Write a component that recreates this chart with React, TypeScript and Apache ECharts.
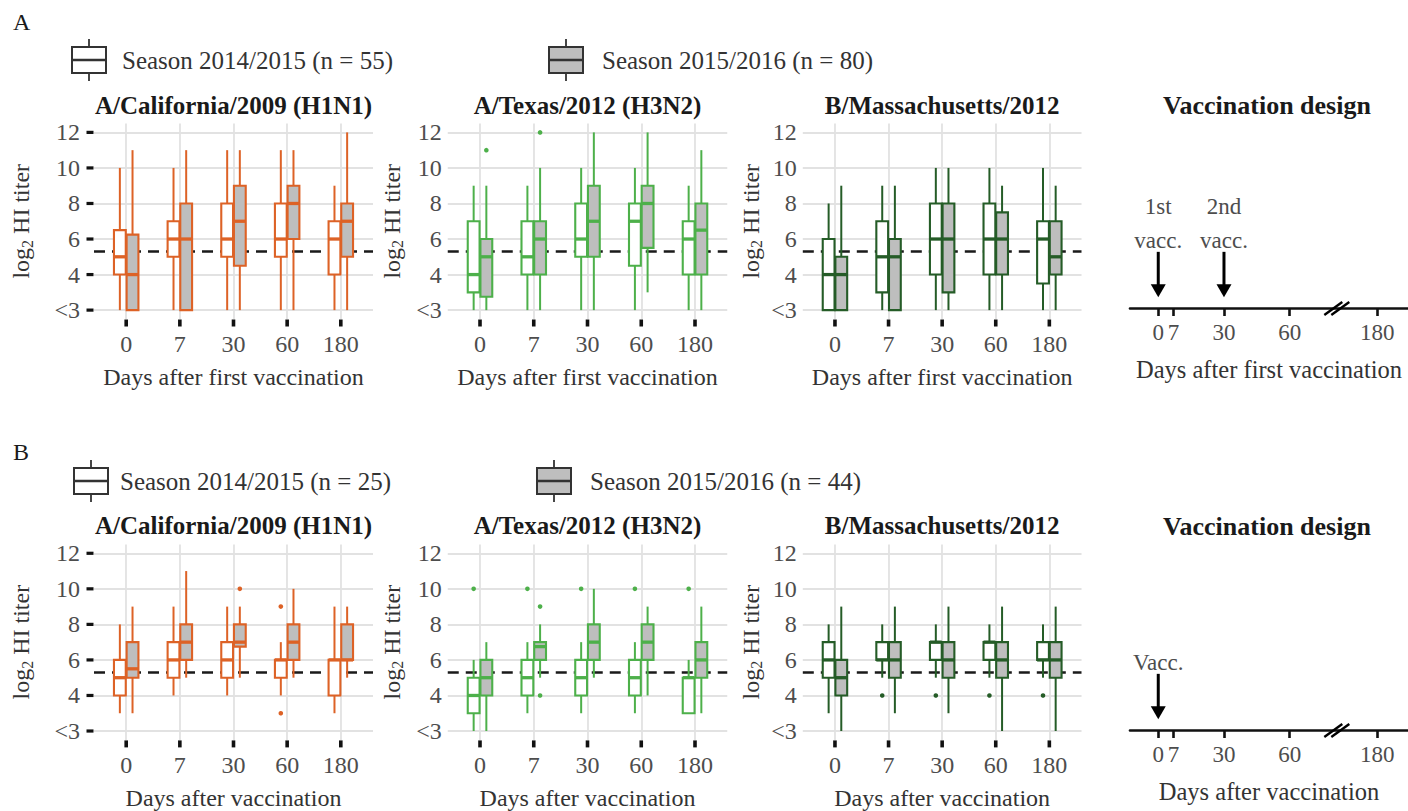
import React, { useEffect, useRef } from 'react';
import * as echarts from 'echarts';

// ---------- data ----------
const DAYS = ['0', '7', '30', '60', '180'];
const Y_TICKS = [2, 4, 6, 8, 10, 12]; // 2 == "<3"
const THRESH = 5.32; // log2(40)

// each row: [lowWhisker, q1, median, q3, highWhisker] for days 0,7,30,60,180
// Panel A (two doses)
const calA_s1 = [[2, 4, 5, 6.5, 10], [2, 5, 6, 7, 10], [2, 5, 6, 8, 11], [2, 5, 6, 8, 11], [2, 4, 6, 7, 9]];
const calA_s2 = [[2, 2, 4, 6.25, 11], [2, 2, 6, 8, 11], [2, 4.5, 7, 9, 11], [2, 6, 8, 9, 11], [2, 5, 7, 8, 12]];
const texA_s1 = [[2, 3, 4, 7, 9], [2, 4, 5, 7, 9], [2, 5, 6, 8, 10], [2, 4.5, 7, 8, 10], [2, 4, 6, 7, 9]];
const texA_s2 = [[2, 2.75, 5, 6, 9], [2, 4, 6, 7, 10], [2, 5, 7, 9, 12], [3, 5.5, 8, 9, 12], [2, 4, 6.5, 8, 11]];
const masA_s1 = [[2, 2, 4, 6, 8], [2, 3, 5, 7, 9], [2, 4, 6, 8, 10], [2, 4, 6, 8, 10], [2, 3.5, 6, 7, 10]];
const masA_s2 = [[2, 2, 4, 5, 9], [2, 2, 5, 6, 9], [2, 3, 6, 8, 10], [2, 4, 6, 7.5, 9], [2, 4, 5, 7, 9]];
// outliers: [dayIndex, value]
const calA_o1: number[][] = [];
const calA_o2: number[][] = [];
const texA_o1: number[][] = [];
const texA_o2 = [[0, 11], [1, 12]];
const masA_o1: number[][] = [];
const masA_o2: number[][] = [];

// Panel B (one dose)
const calB_s1 = [[3, 4, 5, 6, 8], [4, 5, 6, 7, 9], [4, 5, 6, 7, 9], [4, 5, 6, 6, 7], [3, 4, 6, 6, 9]];
const calB_s2 = [[3, 5, 5.5, 7, 9], [5, 6, 7, 8, 11], [5, 6.75, 7, 8, 9], [5, 6, 7, 8, 10], [5, 6, 6, 8, 9]];
const texB_s1 = [[2, 3, 4, 5, 6], [3, 4, 5, 6, 7], [3, 4, 5, 6, 7], [3, 4, 5, 6, 7], [3, 3, 5, 5, 6]];
const texB_s2 = [[2, 4, 5, 6, 7], [5, 6, 6.75, 7, 8], [5, 6, 7, 8, 10], [4, 6, 7, 8, 9], [3, 5, 6, 7, 9]];
const masB_s1 = [[3, 5, 6, 7, 8], [5, 6, 6, 7, 8], [5, 6, 7, 7, 8], [5, 6, 7, 7, 8], [5, 6, 6, 7, 8]];
const masB_s2 = [[2, 4, 5, 6, 9], [3, 5, 6, 7, 9], [3, 5, 6, 7, 9], [2, 5, 6, 7, 9], [2, 5, 6, 7, 9]];
const calB_o1 = [[3, 9], [3, 3]];
const calB_o2 = [[2, 10]];
const texB_o1 = [[0, 10], [1, 10], [2, 10], [3, 10], [4, 10]];
const texB_o2 = [[1, 9], [1, 4]];
const masB_o1 = [[1, 4], [2, 4], [3, 4], [4, 4]];
const masB_o2: number[][] = [];

const LEGEND_A = ['Season 2014/2015 (n = 55)', 'Season 2015/2016 (n = 80)'];
const LEGEND_B = ['Season 2014/2015 (n = 25)', 'Season 2015/2016 (n = 44)'];
const STRAINS = ['A/California/2009 (H1N1)', 'A/Texas/2012 (H3N2)', 'B/Massachusetts/2012'];

// vaccination design
const DESIGN_DAYS = [0, 7, 30, 60, 180];
const vaccDaysA = [0, 30];
const vaccLabelsA = [['1st', 'vacc.'], ['2nd', 'vacc.']];
const vaccDaysB = [0];
const vaccLabelsB = [['Vacc.']];

// ---------- styling ----------
const FONT = '"Liberation Serif", "Times New Roman", serif';
const ORANGE = '#DD6226';
const GREEN = '#4DB04A';
const DKGREEN = '#255C27';
const GREYFILL = '#BEBEBE';
const GRID_C = '#E2E2E2';
const TXT = '#4D4D4D';
const DARK = '#1A1A1A';
const TICK_C = '#111111';

const COL_LEFT = [94, 447.75, 802.8];
const COL_W = [279, 279.5, 278.7];
const ROW_TOP = [123.5, 544.4];
const ROW_H = 195.5;
const X_MIN = 0.4;
const X_MAX = 5.6;
const Y_MIN = 1.5;
const Y_MAX = 12.5;
const BOXW = 0.22;
const DODGE = 0.118;
const YNAME_GAP = [59, 42, 38];

// broken design axis: days beyond 90 are shifted left by 80
const compress = (d: number) => (d > 90 ? d - 80 : d);
const expand = (v: number) => (v > 90 ? v + 80 : v);
const BREAK_AT = 81.5;

// category k (0-based) sits at axis value k + 1
function boxRenderer(off: number, color: string, fill: string) {
  return (params: any, api: any) => {
    const x = api.value(0) + 1 + off;
    const lo = api.coord([x, api.value(1)]);
    const q1 = api.coord([x, api.value(2)]);
    const md = api.coord([x, api.value(3)]);
    const q3 = api.coord([x, api.value(4)]);
    const hi = api.coord([x, api.value(5)]);
    const w = api.size([BOXW, 0])[0];
    return {
      type: 'group',
      children: [
        { type: 'line', shape: { x1: lo[0], y1: lo[1], x2: hi[0], y2: hi[1] }, style: { stroke: color, lineWidth: 2 } },
        {
          type: 'rect',
          shape: { x: q3[0] - w / 2, y: q3[1], width: w, height: q1[1] - q3[1] },
          style: { fill, stroke: color, lineWidth: 2.1 },
        },
        { type: 'line', shape: { x1: md[0] - w / 2, y1: md[1], x2: md[0] + w / 2, y2: md[1] }, style: { stroke: color, lineWidth: 3.3 } },
      ],
    };
  };
}

function outlierRenderer(off: number, color: string) {
  return (params: any, api: any) => {
    const p = api.coord([api.value(0) + 1 + off, api.value(1)]);
    return { type: 'circle', shape: { cx: p[0], cy: p[1], r: 2.3 }, style: { fill: color } };
  };
}

function legendIcon(x: number, y: number, fill: string) {
  return {
    type: 'group',
    children: [
      { type: 'line', shape: { x1: x + 17, y1: y - 21, x2: x + 17, y2: y + 21 }, style: { stroke: '#333', lineWidth: 1.8 } },
      { type: 'rect', shape: { x, y: y - 13, width: 34, height: 26 }, style: { fill, stroke: '#333', lineWidth: 2 } },
      { type: 'line', shape: { x1: x, y1: y, x2: x + 34, y2: y }, style: { stroke: '#333', lineWidth: 2.5 } },
    ],
  };
}

function buildOption() {
  const panels = [
    { row: 0, col: 0, color: ORANGE, s1: calA_s1, s2: calA_s2, o1: calA_o1, o2: calA_o2 },
    { row: 0, col: 1, color: GREEN, s1: texA_s1, s2: texA_s2, o1: texA_o1, o2: texA_o2 },
    { row: 0, col: 2, color: DKGREEN, s1: masA_s1, s2: masA_s2, o1: masA_o1, o2: masA_o2 },
    { row: 1, col: 0, color: ORANGE, s1: calB_s1, s2: calB_s2, o1: calB_o1, o2: calB_o2 },
    { row: 1, col: 1, color: GREEN, s1: texB_s1, s2: texB_s2, o1: texB_o1, o2: texB_o2 },
    { row: 1, col: 2, color: DKGREEN, s1: masB_s1, s2: masB_s2, o1: masB_o1, o2: masB_o2 },
  ];
  const xNames = ['Days after first vaccination', 'Days after vaccination'];
  const CATS = [1, 2, 3, 4, 5];
  const grid: any[] = [];
  const xAxis: any[] = [];
  const yAxis: any[] = [];
  const series: any[] = [];
  const graphic: any[] = [];

  panels.forEach((p, i) => {
    grid.push({ left: COL_LEFT[p.col], top: ROW_TOP[p.row], width: COL_W[p.col], height: ROW_H });
    xAxis.push({
      gridIndex: i,
      type: 'value',
      min: X_MIN,
      max: X_MAX,
      name: xNames[p.row],
      nameLocation: 'middle',
      nameGap: 46,
      nameTextStyle: { fontFamily: FONT, fontSize: 24, color: '#333' },
      axisLine: { show: false },
      axisTick: { show: false, customValues: CATS },
      axisLabel: {
        customValues: CATS,
        formatter: (v: number) => DAYS[Math.round(v) - 1],
        fontFamily: FONT,
        fontSize: 24,
        color: TXT,
        margin: 13,
      },
      splitLine: { show: true, lineStyle: { color: GRID_C, width: 1.8 } },
    });
    yAxis.push({
      gridIndex: i,
      type: 'value',
      min: Y_MIN,
      max: Y_MAX,
      name: '{a|log}{s|2}{a| HI titer}',
      nameLocation: 'middle',
      nameGap: YNAME_GAP[p.col],
      nameTextStyle: {
        fontFamily: FONT,
        fontSize: 24,
        color: '#333',
        rich: {
          a: { fontFamily: FONT, fontSize: 24, color: '#333' },
          s: { fontFamily: FONT, fontSize: 16, color: '#333', padding: [12, 0, 0, 0] },
        },
      },
      axisLine: { show: false },
      axisTick: { show: false, customValues: Y_TICKS },
      axisLabel: {
        customValues: Y_TICKS,
        formatter: (v: number) => (v === 2 ? '<3' : String(v)),
        fontFamily: FONT,
        fontSize: 24,
        color: TXT,
        margin: p.col === 0 ? 14 : 6,
      },
      splitLine: { show: true, lineStyle: { color: GRID_C, width: 1.8 } },
    });
    // tick marks (x ticks on every panel, y ticks on first column), placed through the axes
    series.push({
      type: 'custom',
      xAxisIndex: i,
      yAxisIndex: i,
      clip: false,
      silent: true,
      z: 20,
      data: CATS.map((c) => [c, Y_MIN]),
      renderItem: (params: any, api: any) => {
        const pt = api.coord([api.value(0), api.value(1)]);
        return {
          type: 'rect',
          shape: { x: pt[0] - 1.8, y: pt[1] + 0.5, width: 3.6, height: 7 },
          style: { fill: TICK_C },
        };
      },
    });
    if (p.col === 0) {
      series.push({
        type: 'custom',
        xAxisIndex: i,
        yAxisIndex: i,
        clip: false,
        silent: true,
        z: 20,
        data: Y_TICKS.map((v) => [X_MIN, v]),
        renderItem: (params: any, api: any) => {
          const pt = api.coord([api.value(0), api.value(1)]);
          return {
            type: 'rect',
            shape: { x: pt[0] - 7.5, y: pt[1] - 1.6, width: 7, height: 3.2 },
            style: { fill: TICK_C },
          };
        },
      });
    }
    const toRows = (arr: number[][]) => arr.map((r, k) => [k, ...r]);
    series.push({
      type: 'custom',
      xAxisIndex: i,
      yAxisIndex: i,
      z: 10,
      renderItem: boxRenderer(-DODGE, p.color, '#FFFFFF'),
      data: toRows(p.s1),
      markLine: {
        silent: true,
        z: 1,
        symbol: ['none', 'none'],
        label: { show: false },
        lineStyle: { type: [11, 7], color: DARK, width: 2.7 },
        data: [{ yAxis: THRESH }],
      },
    });
    series.push({
      type: 'custom',
      xAxisIndex: i,
      yAxisIndex: i,
      z: 10,
      renderItem: boxRenderer(DODGE, p.color, GREYFILL),
      data: toRows(p.s2),
    });
    series.push({ type: 'custom', xAxisIndex: i, yAxisIndex: i, z: 10, renderItem: outlierRenderer(-DODGE, p.color), data: p.o1 });
    series.push({ type: 'custom', xAxisIndex: i, yAxisIndex: i, z: 10, renderItem: outlierRenderer(DODGE, p.color), data: p.o2 });

    const cx = COL_LEFT[p.col] + COL_W[p.col] / 2;
    graphic.push({
      type: 'text',
      x: cx,
      y: ROW_TOP[p.row] - 18.5,
      style: { text: STRAINS[p.col], font: `bold 25px ${FONT}`, fill: DARK, textAlign: 'center', textVerticalAlign: 'middle' },
    });
  });

  // vaccination design grids
  const designTop = [200, 622];
  const designNames = ['Days after first vaccination', 'Days after vaccination'];
  const vaccDays = [vaccDaysA, vaccDaysB];
  const vaccLabels = [vaccLabelsA, vaccLabelsB];
  [0, 1].forEach((r) => {
    const gi = grid.length;
    grid.push({ left: 1130, top: designTop[r], width: 278, height: 108 });
    xAxis.push({
      gridIndex: gi,
      type: 'value',
      min: -12.9,
      max: 114,
      name: designNames[r],
      nameLocation: 'middle',
      nameGap: 49,
      nameTextStyle: { fontFamily: FONT, fontSize: 24.5, color: '#333' },
      axisLine: { show: true, onZero: false, lineStyle: { color: '#111', width: 2.6 } },
      axisTick: { show: true, customValues: DESIGN_DAYS.map(compress), length: 8, lineStyle: { color: '#111', width: 2.6 } },
      axisLabel: {
        customValues: DESIGN_DAYS.map(compress),
        formatter: (v: number) => String(expand(v)),
        fontFamily: FONT,
        fontSize: 23,
        color: TXT,
        margin: 13,
      },
      splitLine: { show: false },
    });
    yAxis.push({ gridIndex: gi, type: 'value', min: 0, max: 1, show: false });
    const labels = vaccLabels[r];
    series.push({
      type: 'custom',
      xAxisIndex: gi,
      yAxisIndex: gi,
      data: vaccDays[r].map((d, k) => [compress(d), k]),
      renderItem: (params: any, api: any) => {
        const top = api.coord([api.value(0), 0.52]);
        const tip = api.coord([api.value(0), 0.1]);
        const lines = labels[api.value(1)];
        const children: any[] = [
          { type: 'line', shape: { x1: top[0], y1: top[1], x2: tip[0], y2: tip[1] - 10 }, style: { stroke: '#000', lineWidth: 3 } },
          {
            type: 'polygon',
            shape: { points: [[tip[0] - 7.5, tip[1] - 13], [tip[0] + 7.5, tip[1] - 13], [tip[0], tip[1]]] },
            style: { fill: '#000' },
          },
        ];
        lines.forEach((t: string, k: number) => {
          children.push({
            type: 'text',
            x: top[0],
            y: top[1] - 11 - (lines.length - 1 - k) * 34,
            style: { text: t, font: `23px ${FONT}`, fill: TXT, textAlign: 'center', textVerticalAlign: 'middle' },
          });
        });
        return { type: 'group', children };
      },
    });
    series.push({
      type: 'custom',
      xAxisIndex: gi,
      yAxisIndex: gi,
      data: [[BREAK_AT, 0]],
      renderItem: (params: any, api: any) => {
        const c = api.coord([api.value(0), api.value(1)]);
        return {
          type: 'group',
          children: [-1, 1].map((s) => ({
            type: 'line',
            shape: { x1: c[0] + s * 3.5 - 9, y1: c[1] + 7, x2: c[0] + s * 3.5 + 9, y2: c[1] - 6 },
            style: { stroke: '#000', lineWidth: 2.4 },
          })),
        };
      },
    });
    graphic.push({
      type: 'text',
      x: 1267,
      y: r === 0 ? 105 : 526,
      style: { text: 'Vaccination design', font: `bold 26px ${FONT}`, fill: DARK, textAlign: 'center', textVerticalAlign: 'middle' },
    });
  });

  // panel letters and legends
  graphic.push({ type: 'text', x: 13, y: 22, style: { text: 'A', font: `24px ${FONT}`, fill: DARK, textVerticalAlign: 'middle' } });
  graphic.push({ type: 'text', x: 13, y: 452, style: { text: 'B', font: `24px ${FONT}`, fill: DARK, textVerticalAlign: 'middle' } });
  const legendRows = [
    { y: 60, icons: [72, 549], texts: [122, 602], labels: LEGEND_A },
    { y: 481, icons: [74, 537], texts: [120, 590], labels: LEGEND_B },
  ];
  legendRows.forEach((lr) => {
    [0, 1].forEach((k) => {
      graphic.push(legendIcon(lr.icons[k], lr.y, k === 0 ? '#FFFFFF' : GREYFILL));
      graphic.push({
        type: 'text',
        x: lr.texts[k],
        y: lr.y,
        style: { text: lr.labels[k], font: `25px ${FONT}`, fill: '#333', textVerticalAlign: 'middle' },
      });
    });
  });

  return { animation: false, backgroundColor: '#FFFFFF', grid, xAxis, yAxis, series, graphic };
}

export default function App() {
  const ref = useRef<HTMLDivElement>(null);
  useEffect(() => {
    if (!ref.current) return;
    const chart = echarts.init(ref.current, null, { renderer: 'svg' });
    chart.setOption(buildOption() as any);
    return () => chart.dispose();
  }, []);
  return <div ref={ref} style={{ position: 'absolute', left: 0, top: 0, width: 1408, height: 811 }} />;
}
